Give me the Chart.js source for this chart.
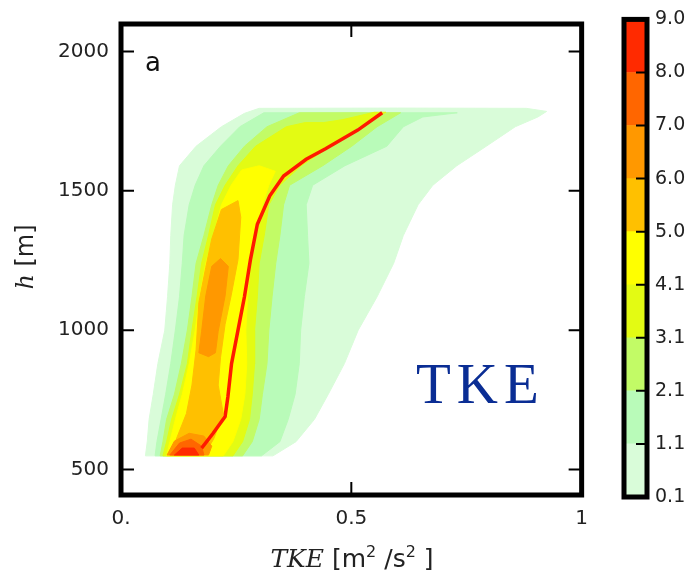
<!DOCTYPE html>
<html>
<head>
<meta charset="utf-8">
<script src="https://cdn.jsdelivr.net/npm/chart.js@4.4.1/dist/chart.umd.min.js"></script>
<style>
  body { margin: 0; background: #fff; }
  #main { position: absolute; left: 0; top: 0; width: 600px; height: 572px; }
  #bar { position: absolute; left: 600px; top: 0; width: 98px; height: 572px; }
</style>
</head>
<body>
<div id="main"><canvas id="chart"></canvas></div>
<div id="bar"><canvas id="cbar"></canvas></div>
<script>
// axis ticks
var xTicks = [0, 0.5, 1];
var xTickLabels = ['0.', '0.5', '1'];
var yTicks = [500, 1000, 1500, 2000];

// colour levels (colorbar)
var levels = ['0.1', '1.1', '2.1', '3.1', '4.1', '5.0', '6.0', '7.0', '8.0', '9.0'];
var colors = ['#d9fcd9', '#b9fbb9', '#c2fb66', '#e3fb13', '#ffff00', '#ffc000', '#ff9800', '#ff6600', '#ff2a00'];

// filled contour outlines, [TKE, h]
var level0 = [[0.053,549],[0.057,600],[0.061,680],[0.070,770],[0.080,880],[0.095,1000],[0.101,1120],[0.106,1240],[0.108,1340],[0.112,1450],[0.118,1520],[0.127,1590],[0.163,1660],[0.218,1730],[0.268,1778],[0.30,1796],[0.60,1797],[0.88,1796],[0.924,1785],[0.905,1765],[0.856,1730],[0.793,1660],[0.729,1590],[0.677,1520],[0.645,1450],[0.613,1340],[0.592,1240],[0.556,1120],[0.515,1000],[0.485,880],[0.45,770],[0.42,680],[0.38,600],[0.33,549]];
var level1 = [[0.074,549],[0.078,600],[0.087,680],[0.097,770],[0.108,880],[0.118,1000],[0.127,1120],[0.133,1240],[0.137,1340],[0.148,1450],[0.161,1520],[0.180,1590],[0.216,1660],[0.258,1730],[0.31,1780],[0.73,1780],[0.655,1765],[0.613,1730],[0.577,1660],[0.486,1590],[0.416,1520],[0.402,1450],[0.405,1340],[0.408,1240],[0.398,1120],[0.39,1000],[0.387,880],[0.378,770],[0.363,680],[0.345,600],[0.305,549]];
var level2 = [[0.085,549],[0.091,600],[0.099,680],[0.116,770],[0.131,880],[0.144,1000],[0.154,1120],[0.163,1240],[0.180,1340],[0.197,1450],[0.211,1520],[0.233,1590],[0.268,1660],[0.317,1730],[0.387,1780],[0.607,1780],[0.556,1730],[0.501,1660],[0.438,1590],[0.366,1520],[0.353,1450],[0.345,1340],[0.336,1240],[0.328,1120],[0.321,1000],[0.317,880],[0.307,770],[0.300,680],[0.285,600],[0.264,549]];
var level3 = [[0.091,549],[0.099,600],[0.110,680],[0.127,770],[0.144,880],[0.154,1000],[0.165,1120],[0.175,1240],[0.190,1340],[0.205,1450],[0.226,1520],[0.254,1590],[0.292,1660],[0.359,1730],[0.40,1745],[0.44,1745],[0.48,1755],[0.55,1782],[0.575,1782],[0.515,1730],[0.455,1660],[0.391,1590],[0.345,1520],[0.321,1450],[0.311,1340],[0.300,1240],[0.296,1120],[0.290,1000],[0.290,880],[0.285,770],[0.279,680],[0.264,600],[0.243,549]];
var level4 = [[0.099,549],[0.106,600],[0.118,680],[0.133,770],[0.148,880],[0.161,1000],[0.171,1120],[0.184,1240],[0.201,1340],[0.218,1450],[0.239,1520],[0.262,1575],[0.30,1590],[0.335,1570],[0.321,1520],[0.307,1450],[0.292,1340],[0.281,1240],[0.275,1120],[0.271,1000],[0.273,880],[0.269,770],[0.260,680],[0.243,600],[0.222,549]];
var level5 = [[0.11,552],[0.12,609],[0.142,701],[0.154,803],[0.163,930],[0.169,1099],[0.184,1225],[0.197,1327],[0.218,1433],[0.254,1465],[0.260,1405],[0.254,1253],[0.239,1123],[0.226,1021],[0.216,901],[0.211,803],[0.222,701],[0.201,609],[0.180,552]];
var level6a = [[0.216,1257],[0.233,1229],[0.226,1123],[0.211,996],[0.205,919],[0.190,905],[0.169,919],[0.175,996],[0.184,1123],[0.197,1229]];
var level6b = [[0.10,552],[0.116,602],[0.148,630],[0.180,620],[0.197,584],[0.190,552]];
var level7 = [[0.106,552],[0.127,595],[0.152,609],[0.175,584],[0.180,552]];
var level8 = [[0.116,552],[0.133,577],[0.159,577],[0.169,552]];

// mean TKE profile (red line)
var meanProfile = [[0.175,577],[0.200,630],[0.226,690],[0.232,760],[0.240,880],[0.254,1000],[0.268,1120],[0.281,1253],[0.296,1380],[0.323,1482],[0.353,1553],[0.402,1613],[0.444,1651],[0.514,1718],[0.567,1780]];

var contours = [level0, level1, level2, level3, level4, level5, level6a, level6b, level7, level8];
var contourLevel = [0, 1, 2, 3, 4, 5, 6, 6, 7, 8];

Chart.defaults.font.family = 'DejaVu Sans';
Chart.defaults.font.size = 20;
Chart.defaults.color = '#222';

function toXY(p) { return p.map(function(q) { return {x: q[0], y: q[1]}; }); }

var datasets = contours.map(function(p, i) {
  var c = colors[contourLevel[i]];
  return {
    data: toXY(p.concat([p[0]])),
    showLine: true, fill: 'shape', tension: 0,
    backgroundColor: c, borderColor: c, borderWidth: 1,
    pointRadius: 0, order: 20 - i
  };
});
datasets.push({
  data: toXY(meanProfile), showLine: true, fill: false, tension: 0,
  borderColor: '#ff1a00', borderWidth: 3.5, pointRadius: 0, order: 0
});

var frame = {
  id: 'frame',
  afterDatasetsDraw: function(chart) {
    var c = chart.ctx, a = chart.chartArea, xs = chart.scales.x, ys = chart.scales.y;
    c.save();
    c.strokeStyle = '#000';
    c.lineWidth = 2;
    c.beginPath();
    yTicks.forEach(function(v) {
      var p = ys.getPixelForValue(v);
      c.moveTo(a.left, p); c.lineTo(a.left + 13, p);
      c.moveTo(a.right, p); c.lineTo(a.right - 13, p);
    });
    xTicks.forEach(function(v) {
      var p = xs.getPixelForValue(v);
      c.moveTo(p, a.top); c.lineTo(p, a.top + 13);
      c.moveTo(p, a.bottom); c.lineTo(p, a.bottom - 13);
    });
    c.stroke();
    c.lineWidth = 5;
    c.strokeRect(a.left, a.top, a.right - a.left, a.bottom - a.top);

    // panel letter
    c.fillStyle = '#111';
    c.font = '26px "DejaVu Sans"';
    c.textBaseline = 'alphabetic';
    c.textAlign = 'left';
    c.fillText('a', a.left + 24, a.top + 47);

    // big label
    c.fillStyle = '#0a2d94';
    c.font = '57px "Liberation Serif"';
    c.letterSpacing = '6px';
    c.fillText('TKE', 416, 403);
    c.letterSpacing = '0px';

    // x title
    c.fillStyle = '#222';
    var parts = [
      {t: 'TKE', f: 'italic 25px "DejaVu Serif"', dy: 0},
      {t: ' [m', f: '25px "DejaVu Sans"', dy: 0},
      {t: '2', f: '16px "DejaVu Sans"', dy: -10},
      {t: ' /s', f: '25px "DejaVu Sans"', dy: 0},
      {t: '2', f: '16px "DejaVu Sans"', dy: -10},
      {t: ' ]', f: '25px "DejaVu Sans"', dy: 0}
    ];
    var w = 0;
    parts.forEach(function(p) { c.font = p.f; p.w = c.measureText(p.t).width; w += p.w; });
    var x0 = 352 - w / 2;
    parts.forEach(function(p) { c.font = p.f; c.fillText(p.t, x0, 567 + p.dy); x0 += p.w; });

    // y title
    c.translate(33, 257);
    c.rotate(-Math.PI / 2);
    var yp = [
      {t: 'h', f: 'italic 24px "DejaVu Serif"'},
      {t: ' [m]', f: '24px "DejaVu Sans"'}
    ];
    w = 0;
    yp.forEach(function(p) { c.font = p.f; p.w = c.measureText(p.t).width; w += p.w; });
    x0 = -w / 2;
    yp.forEach(function(p) { c.font = p.f; c.fillText(p.t, x0, 0); x0 += p.w; });
    c.restore();
  }
};

new Chart(document.getElementById('chart'), {
  type: 'scatter',
  data: {datasets: datasets},
  options: {
    responsive: true, maintainAspectRatio: false, animation: false,
    layout: {padding: {left: 0, top: 15, right: 8, bottom: 0}},
    plugins: {legend: {display: false}, tooltip: {enabled: false}},
    scales: {
      x: {
        type: 'linear', min: 0, max: 1,
        grid: {display: false, drawTicks: false}, border: {display: false},
        afterBuildTicks: function(s) { s.ticks = xTicks.map(function(v) { return {value: v}; }); },
        afterFit: function(s) { s.height = 77; },
        ticks: {font: {family: 'DejaVu Sans', size: 20}, color: '#222', padding: 12,
          callback: function(v, i) { return xTickLabels[i]; }}
      },
      y: {
        type: 'linear', min: 408.6, max: 2098.6,
        grid: {display: false, drawTicks: false}, border: {display: false},
        afterBuildTicks: function(s) { s.ticks = yTicks.map(function(v) { return {value: v}; }); },
        afterFit: function(s) { s.width = 121; },
        ticks: {font: {family: 'DejaVu Sans', size: 20}, color: '#222', padding: 12,
          callback: function(v) { return String(v); }}
      }
    }
  },
  plugins: [frame]
});

// colorbar
var cbFrame = {
  id: 'cbFrame',
  afterDatasetsDraw: function(chart) {
    var c = chart.ctx, a = chart.chartArea, ys = chart.scales.y;
    c.save();
    c.strokeStyle = '#000';
    c.lineWidth = 2;
    c.beginPath();
    for (var i = 1; i < levels.length - 1; i++) {
      var p = ys.getPixelForValue(i);
      c.moveTo(a.right - 11, p); c.lineTo(a.right, p);
    }
    c.stroke();
    c.lineWidth = 5;
    c.strokeRect(a.left, a.top, a.right - a.left, a.bottom - a.top);
    c.restore();
  }
};

new Chart(document.getElementById('cbar'), {
  type: 'bar',
  data: {
    labels: [''],
    datasets: colors.map(function(col, i) {
      return {data: [[i, i + 1]], backgroundColor: col, borderWidth: 0,
        barPercentage: 1, categoryPercentage: 1, grouped: false};
    })
  },
  options: {
    responsive: true, maintainAspectRatio: false, animation: false,
    layout: {padding: {left: 24, top: 15, right: 0, bottom: 75}},
    plugins: {legend: {display: false}, tooltip: {enabled: false}},
    scales: {
      x: {display: false},
      y: {
        position: 'right', min: 0, max: 9,
        grid: {display: false, drawTicks: false}, border: {display: false},
        afterBuildTicks: function(s) { s.ticks = levels.map(function(v, i) { return {value: i}; }); },
        afterFit: function(s) { s.width = 51; },
        ticks: {font: {family: 'DejaVu Sans', size: 19}, color: '#222', padding: 8,
          callback: function(v) { return levels[v]; }}
      }
    }
  },
  plugins: [cbFrame]
});
</script>
</body>
</html>
